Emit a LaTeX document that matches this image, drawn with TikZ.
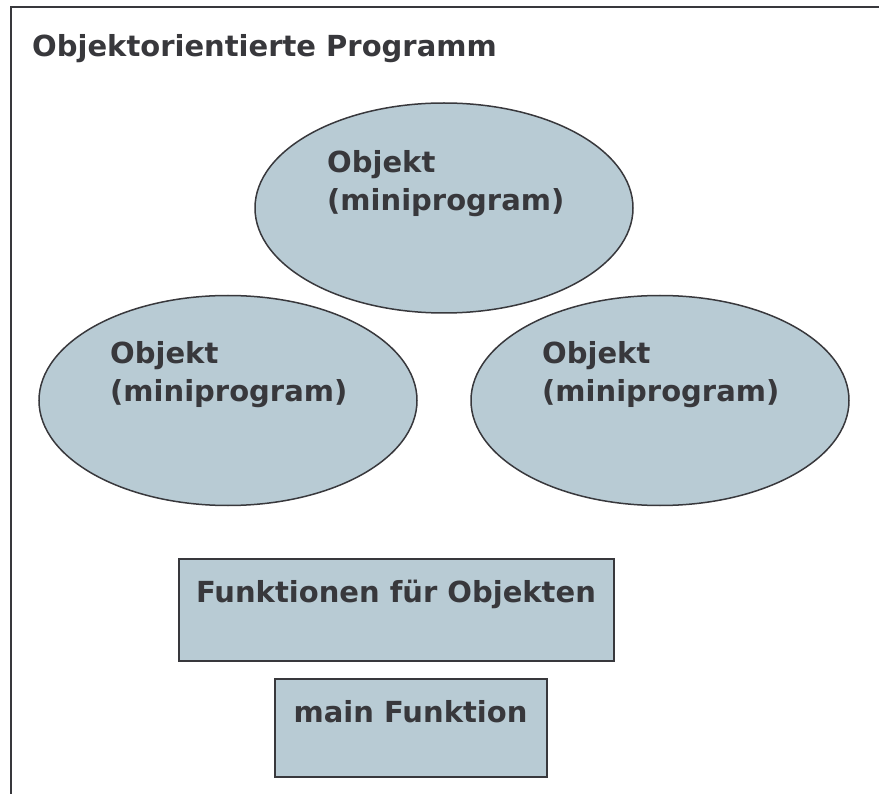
\documentclass[tikz,border=0pt]{standalone}
\usepackage{fontspec}
\setmainfont{DejaVu Sans}
\usepackage{tikz}
\usetikzlibrary{shapes.geometric}

\definecolor{objfill}{RGB}{184,203,212}
\definecolor{inkgray}{RGB}{56,56,60}

\begin{document}
\begin{tikzpicture}[x=1pt, y=-1pt,
    objekt/.style={draw=inkgray, fill=objfill, line width=1.5pt, ellipse, inner sep=0pt, minimum width=378pt, minimum height=210pt},
    block/.style={draw=inkgray, fill=objfill, line width=2pt, rectangle, inner sep=0pt},
    txt/.style={text=inkgray, inner sep=0pt, align=left, font=\fontsize{29}{38}\selectfont\bfseries}]
            \useasboundingbox (0,0) rectangle (879,794);
            \fill[white] (0,0) rectangle (879,794);

            % frame and title
            \coordinate (fbl) at (11,794);
            \coordinate (ftl) at (11,7);
            \coordinate (ftr) at (879,7);
            \draw[draw=inkgray, line width=2pt] (fbl) -- (ftl) -- (ftr);
            \node[txt, anchor=base west] (title) at (32,57) {Objektorientierte Programm};

            % the three objects (base = last line)
            \node[objekt] (otop) at (444,208) {};
            \node[objekt] (oleft) at (228,400.5) {};
            \node[objekt] (oright) at (660,400.5) {};
            \node[txt, anchor=base west] (ttop) at (327,211) {Objekt\\(miniprogram)};
            \node[txt, anchor=base west] (tleft) at (110,402) {Objekt\\(miniprogram)};
            \node[txt, anchor=base west] (tright) at (542,402) {Objekt\\(miniprogram)};

            % functions
            \node[block, minimum width=435pt, minimum height=102pt] (funk) at (396.5,610) {};
            \node[txt, anchor=base] (tfunk) at (396,602) {Funktionen für Objekten};
            \node[block, minimum width=272pt, minimum height=98pt] (mainf) at (411,728) {};
            \node[txt, anchor=base] (tmain) at (410.5,722) {main Funktion};

        \end{tikzpicture}
\end{document}
